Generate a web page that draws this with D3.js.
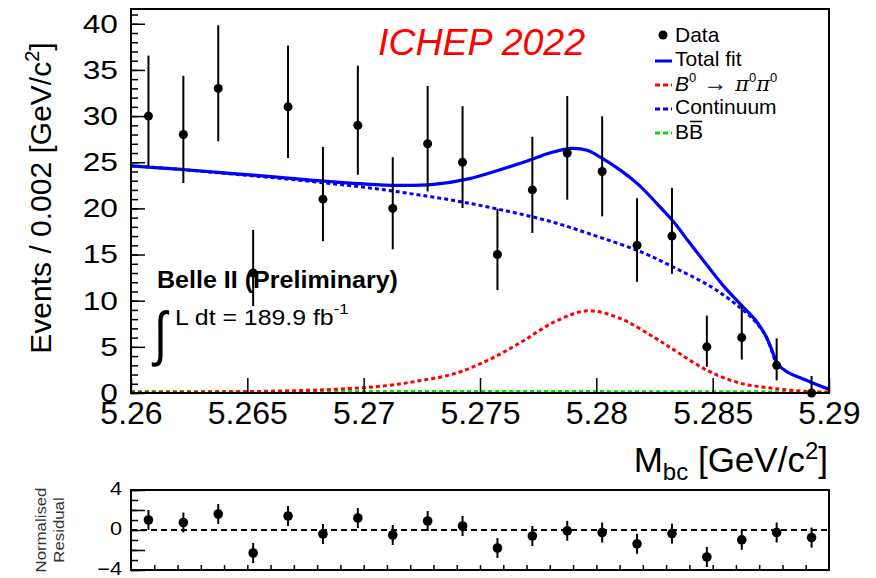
<!DOCTYPE html>
<html><head><meta charset="utf-8">
<script src="https://cdn.jsdelivr.net/npm/d3@7"></script>
<style>
body{margin:0;background:#fff}
svg{display:block}
text{font-family:"Liberation Sans",Arial,Helvetica,sans-serif;fill:#000}
</style>
</head><body>
<svg id="c" width="876" height="578"></svg>
<script>
// ---------------- data ----------------
const binCenters = [5.26075,5.26225,5.26375,5.26525,5.26675,5.26825,5.26975,5.27125,5.27275,5.27425,
                    5.27575,5.27725,5.27875,5.28025,5.28175,5.28325,5.28475,5.28625,5.28775,5.28925];
const events   = [30,28,33,13,31,21,29,20,27,25,15,22,26,24,16,17,5,6,3,0];
const errLow   = [5.45,5.26,5.73,3.58,5.54,4.55,5.35,4.44,5.16,4.96,3.85,4.66,5.06,4.86,3.96,4.09,2.16,2.38,1.63,0];
const errHigh  = [6.55,6.36,6.83,4.67,6.64,5.66,6.46,5.55,6.27,6.07,4.96,5.76,6.17,5.97,5.10,5.23,3.38,3.58,2.92,1.84];
const residuals = [1.0,0.75,1.6,-2.3,1.4,-0.4,1.2,-0.5,0.9,0.4,-1.8,-0.6,-0.08,-0.25,-1.38,-0.36,-2.7,-0.98,-0.25,-0.76];
const residualErr = [1,1,1,1,1,1,1,1,1,1,1,1,1,1,1,1,1,1,1,1];

// fit curves: [Mbc, events]
const totalFit = [[5.2600,24.6],[5.2620,24.25],[5.2640,23.85],[5.2660,23.45],[5.2680,23.0],[5.2700,22.65],
  [5.2715,22.5],[5.2730,22.6],[5.2745,23.2],[5.2760,24.3],[5.2770,25.1],[5.2780,26.0],[5.2789,26.5],
  [5.2796,26.3],[5.2802,25.5],[5.2810,24.2],[5.2818,22.6],[5.2825,20.8],[5.2833,18.6],[5.2840,16.3],
  [5.2848,13.7],[5.2855,11.5],[5.2862,9.6],[5.2869,7.7],[5.2873,6.1],[5.2876,4.3],[5.2878,3.1],
  [5.2882,2.3],[5.2890,1.4],[5.2899,0.5],[5.2900,0.45]];
const continuum = [[5.2600,24.6],[5.2620,24.25],[5.2640,23.8],[5.2660,23.35],[5.2680,22.85],[5.2700,22.3],
  [5.2720,21.6],[5.2740,20.8],[5.2760,19.8],[5.2780,18.6],[5.2800,17.0],[5.2820,15.2],[5.2835,13.4],
  [5.2850,11.4],[5.2862,9.2],[5.2869,7.55],[5.2873,6.1],[5.2876,4.1],[5.28775,2.9]];
const signal = [[5.2600,0.05],[5.2640,0.12],[5.2670,0.25],[5.2690,0.43],[5.2710,0.8],[5.2724,1.33],
  [5.2739,2.1],[5.2753,3.5],[5.2767,5.4],[5.2782,7.7],[5.2796,8.9],[5.2810,8.1],[5.2825,6.0],
  [5.2835,4.4],[5.2848,2.4],[5.2862,1.05],[5.2876,0.5],[5.2891,0.15],[5.2900,0.1]];
const bbbar = [[5.2600,0.15],[5.2700,0.15],[5.2800,0.15],[5.2875,0.12],[5.2900,0.06]];

const yTickLabels = [0,5,10,15,20,25,30,35,40];
const xTickLabels = [5.26,5.265,5.27,5.275,5.28,5.285,5.29];
const rTickLabels = [4,0,-4];

// ---------------- layout ----------------
const svg = d3.select("#c");
const X0=131, X1=829, Y0=9, Y1=393;
const RY0=490, RY1=570;
const x  = d3.scaleLinear().domain([5.26,5.29]).range([X0,X1]);
const y  = d3.scaleLinear().domain([0,41.6]).range([Y1,Y0]);
const yr = d3.scaleLinear().domain([-4,4]).range([RY1,RY0]);

svg.append("defs").append("clipPath").attr("id","clip")
  .append("rect").attr("x",X0).attr("y",Y0).attr("width",X1-X0).attr("height",Y1-Y0);

const line = d3.line().x(d=>x(d[0])).y(d=>y(d[1])).curve(d3.curveCatmullRom.alpha(0.5));
const plot = svg.append("g").attr("clip-path","url(#clip)");
plot.append("path").datum(bbbar).attr("d",line).attr("fill","none")
  .attr("stroke","#00e000").attr("stroke-width",3).attr("stroke-dasharray","4,3");
plot.append("path").datum(signal).attr("d",line).attr("fill","none")
  .attr("stroke","#ff0000").attr("stroke-width",3).attr("stroke-dasharray","4,3");
plot.append("path").datum(continuum).attr("d",line).attr("fill","none")
  .attr("stroke","#0000ff").attr("stroke-width",3).attr("stroke-dasharray","4,3");
plot.append("path").datum(totalFit).attr("d",line).attr("fill","none")
  .attr("stroke","#0000ff").attr("stroke-width",3.2);

// data points
const pts = svg.append("g");
binCenters.forEach((m,i)=>{
  pts.append("line").attr("x1",x(m)).attr("x2",x(m))
    .attr("y1",y(events[i]-errLow[i])).attr("y2",y(events[i]+errHigh[i]))
    .attr("stroke","#000").attr("stroke-width",2);
  pts.append("circle").attr("cx",x(m)).attr("cy",y(events[i])).attr("r",4.5).attr("fill","#000");
});

// axes main
function styleAxis(g){ g.select(".domain").remove(); g.selectAll("line").attr("stroke","#000").attr("stroke-width",1.5); }
svg.append("g").attr("transform",`translate(${X0},0)`)
  .call(d3.axisRight(y).tickValues(d3.range(0,42,1)).tickSize(7).tickFormat("")).call(styleAxis);
svg.append("g").attr("transform",`translate(${X0},0)`)
  .call(d3.axisRight(y).tickValues(yTickLabels).tickSize(14).tickFormat("")).call(styleAxis);
svg.append("g").attr("transform",`translate(0,${Y1})`)
  .call(d3.axisTop(x).tickValues(xTickLabels).tickSize(15).tickFormat("")).call(styleAxis);

// tick labels
const yl = svg.append("g").attr("transform",`translate(${X0},0)`)
  .call(d3.axisLeft(y).tickValues(yTickLabels).tickSize(0));
yl.select(".domain").remove();
yl.selectAll("text").attr("x",0).attr("transform","translate(-13,0) scale(1.22,1)")
  .attr("font-size",26).attr("font-family","Liberation Sans, Arial, sans-serif").attr("fill","#000");
const xl = svg.append("g").attr("transform",`translate(0,${Y1})`)
  .call(d3.axisBottom(x).tickValues(xTickLabels).tickSize(0).tickPadding(8).tickFormat(d=>String(d)));
xl.select(".domain").remove();
xl.selectAll("text").attr("font-size",32).attr("font-family","Liberation Sans, Arial, sans-serif").attr("fill","#000");

// frame
svg.append("rect").attr("x",X0).attr("y",Y0).attr("width",X1-X0).attr("height",Y1-Y0)
  .attr("fill","none").attr("stroke","#000").attr("stroke-width",2);

// axis titles
const yt = svg.append("text").attr("transform","translate(51,198) rotate(-90)")
  .attr("text-anchor","middle").attr("font-size",30);
yt.append("tspan").text("Events / 0.002 [GeV/c");
yt.append("tspan").attr("font-size",20).attr("dy",-12).text("2");
yt.append("tspan").attr("dy",12).text("]");

const xt = svg.append("text").attr("x",828).attr("y",472).attr("text-anchor","end").attr("font-size",35);
xt.append("tspan").text("M");
xt.append("tspan").attr("font-size",24).attr("dy",8).text("bc");
xt.append("tspan").attr("dy",-8).text(" [GeV/c");
xt.append("tspan").attr("font-size",24).attr("dy",-13).text("2");
xt.append("tspan").attr("dy",13).text("]");

// ICHEP
svg.append("text").attr("x",378).attr("y",55).attr("font-size",37.5).attr("font-style","italic")
  .style("fill","#ff0000").text("ICHEP 2022");

// Belle II labels
svg.append("text").attr("transform","translate(157,288) scale(1.09,1)").attr("font-size",23).attr("font-weight","bold")
  .text("Belle II (Preliminary)");
svg.append("text").attr("transform","translate(154,354) scale(0.9,1.15)").attr("font-size",52)
  .attr("font-family","DejaVu Sans").text("\u222b");
const lum = svg.append("text").attr("transform","translate(175,325) scale(1.13,1)").attr("font-size",22);
lum.append("tspan").text("L dt = 189.9 fb");
lum.append("tspan").attr("font-size",15).attr("dy",-11).text("-1");

// legend
const lg = svg.append("g");
lg.append("circle").attr("cx",663).attr("cy",35).attr("r",4.5).attr("fill","#000");
lg.append("text").attr("x",675).attr("y",42).attr("font-size",21).text("Data");
lg.append("line").attr("x1",655).attr("x2",672).attr("y1",61).attr("y2",61).attr("stroke","#0000ff").attr("stroke-width",3);
lg.append("text").attr("x",675).attr("y",66).attr("font-size",21).text("Total fit");
lg.append("line").attr("x1",655).attr("x2",672).attr("y1",85).attr("y2",85).attr("stroke","#ff0000").attr("stroke-width",3).attr("stroke-dasharray","5,3");
const sg = lg.append("text").attr("x",675).attr("y",91).attr("font-size",21);
sg.append("tspan").attr("font-style","italic").text("B");
sg.append("tspan").attr("font-size",13).attr("dy",-9).text("0");
sg.append("tspan").attr("dy",9).attr("dx",7).attr("font-size",24).text("\u2192");
sg.append("tspan").attr("dx",8).attr("font-style","italic").attr("font-family","DejaVu Serif").text("\u03c0");
sg.append("tspan").attr("font-size",13).attr("dy",-9).text("0");
sg.append("tspan").attr("dy",9).attr("font-style","italic").attr("font-family","DejaVu Serif").text("\u03c0");
sg.append("tspan").attr("font-size",13).attr("dy",-9).text("0");
lg.append("line").attr("x1",655).attr("x2",672).attr("y1",109).attr("y2",109).attr("stroke","#0000ff").attr("stroke-width",3).attr("stroke-dasharray","5,3");
lg.append("text").attr("x",675).attr("y",114).attr("font-size",21).text("Continuum");
lg.append("line").attr("x1",655).attr("x2",672).attr("y1",133).attr("y2",133).attr("stroke","#00e000").attr("stroke-width",3).attr("stroke-dasharray","5,3");
const bb = lg.append("text").attr("x",675).attr("y",139).attr("font-size",21).text("BB");
{
  const n = bb.node();
  const w1 = n.getSubStringLength(0,1), w2 = n.getSubStringLength(1,1);
  lg.append("line").attr("x1",675+w1+1).attr("x2",675+w1+w2-1).attr("y1",121.5).attr("y2",121.5)
    .attr("stroke","#000").attr("stroke-width",1.5);
}

// ---------------- residual panel ----------------
svg.append("line").attr("x1",X0).attr("x2",X1).attr("y1",yr(0)).attr("y2",yr(0))
  .attr("stroke","#000").attr("stroke-width",2).attr("stroke-dasharray","6,4");
const rp = svg.append("g");
binCenters.forEach((m,i)=>{
  rp.append("line").attr("x1",x(m)).attr("x2",x(m))
    .attr("y1",yr(residuals[i]-residualErr[i])).attr("y2",yr(residuals[i]+residualErr[i]))
    .attr("stroke","#000").attr("stroke-width",2);
  rp.append("circle").attr("cx",x(m)).attr("cy",yr(residuals[i])).attr("r",4.8).attr("fill","#000");
});
svg.append("g").attr("transform",`translate(${X0},0)`)
  .call(d3.axisRight(yr).tickValues(d3.range(-4,5,1)).tickSize(7).tickFormat("")).call(styleAxis);
svg.append("g").attr("transform",`translate(${X0},0)`)
  .call(d3.axisRight(yr).tickValues([-4,-2,0,2,4]).tickSize(14).tickFormat("")).call(styleAxis);
svg.append("g").attr("transform",`translate(0,${RY1})`)
  .call(d3.axisTop(x).tickValues(d3.range(5.261,5.2895,0.001)).tickSize(5).tickFormat("")).call(styleAxis);
const rl = svg.append("g").attr("transform",`translate(${X0},0)`)
  .call(d3.axisLeft(yr).tickValues(rTickLabels).tickSize(0).tickFormat(d=>d<0?"\u2212"+Math.abs(d):String(d)));
rl.select(".domain").remove();
rl.selectAll("text").attr("x",0).attr("transform","translate(-9,-1) scale(1.2,1)")
  .attr("font-size",18).attr("font-family","Liberation Sans, Arial, sans-serif").attr("fill","#000");
svg.append("rect").attr("x",X0).attr("y",RY0).attr("width",X1-X0).attr("height",RY1-RY0)
  .attr("fill","none").attr("stroke","#000").attr("stroke-width",2);
svg.append("text").attr("transform","translate(46,530) rotate(-90) scale(1.2,1)").attr("text-anchor","middle")
  .attr("font-size",14).style("fill","#333").text("Normalised");
svg.append("text").attr("transform","translate(64,530) rotate(-90) scale(1.2,1)").attr("text-anchor","middle")
  .attr("font-size",14).style("fill","#333").text("Residual");
</script>
</body></html>
